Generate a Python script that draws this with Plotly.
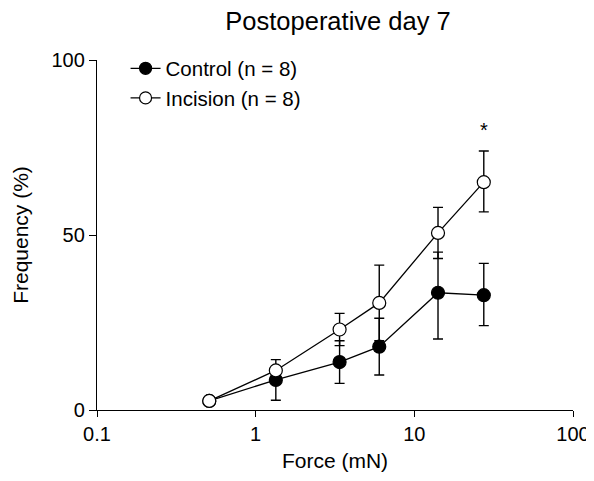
import math
import plotly.graph_objects as go

force = [0.51, 1.34, 3.38, 6.01, 14.1, 27.4]
control = [2.6, 8.6, 13.7, 18.1, 33.5, 32.8]
control_err_up = [0, 5.8, 6.1, 8.1, 11.6, 9.1]
control_err_dn = [0, 5.8, 6.1, 8.1, 13.2, 8.7]
incision = [2.6, 11.3, 23.0, 30.6, 50.6, 65.1]
incision_err_up = [0, 0, 4.6, 10.8, 7.3, 8.9]
incision_err_dn = [0, 0, 4.6, 10.8, 7.3, 8.5]
significance_y = 80
x_ticks = [0.1, 1, 10, 100]
x_tick_labels = ["0.1", "1", "10", "100"]
y_ticks = [0, 50, 100]

FONT = "Liberation Sans, Arial, sans-serif"

fig = go.Figure()
fig.add_trace(go.Scatter(
    x=force, y=control, mode="lines+markers", name="Control (n = 8)", showlegend=False,
    line=dict(color="black", width=1.3),
    marker=dict(symbol="circle", size=13, color="black", line=dict(color="black", width=1.2)),
    error_y=dict(type="data", array=control_err_up, arrayminus=control_err_dn, symmetric=False,
                 color="black", thickness=1.4, width=5),
))
fig.add_trace(go.Scatter(
    x=force, y=incision, mode="lines+markers", name="Incision (n = 8)", showlegend=False,
    line=dict(color="black", width=1.3),
    marker=dict(symbol="circle", size=13, color="white", line=dict(color="black", width=1.2)),
    error_y=dict(type="data", array=incision_err_up, arrayminus=incision_err_dn, symmetric=False,
                 color="black", thickness=1.4, width=5),
))
# legend entries
fig.add_trace(go.Scatter(
    x=[None], y=[None], mode="lines+markers", name="Control (n = 8)",
    line=dict(color="black", width=1.3),
    marker=dict(symbol="circle", size=12, color="black", line=dict(color="black", width=1.2)),
))
fig.add_trace(go.Scatter(
    x=[None], y=[None], mode="lines+markers", name="Incision (n = 8)",
    line=dict(color="black", width=1.3),
    marker=dict(symbol="circle", size=12, color="white", line=dict(color="black", width=1.2)),
))

fig.add_annotation(x=math.log10(force[-1]), y=significance_y, xref="x", yref="y", text="*",
                   showarrow=False, font=dict(family=FONT, size=20, color="black"),
                   xanchor="center", yanchor="middle")

fig.update_layout(
    width=594, height=481,
    margin=dict(l=83, r=25, t=52, b=79),
    paper_bgcolor="white", plot_bgcolor="white",
    font=dict(family=FONT, size=20, color="black"),
    title=dict(text="Postoperative day 7", x=0.5556, xanchor="center", y=0.973, yanchor="middle",
               font=dict(family=FONT, size=25.5, color="black")),
    showlegend=True,
    legend=dict(x=0.06, y=1.033, xanchor="left", yanchor="top", bgcolor="rgba(0,0,0,0)",
                font=dict(family=FONT, size=20.5), tracegroupgap=0),
)
fig.update_xaxes(type="log", range=[-1, 2], tickvals=x_ticks, ticktext=x_tick_labels,
                 showline=True, linecolor="black", linewidth=1.3, ticks="outside", ticklen=6,
                 tickwidth=1.3, tickcolor="black", showgrid=False, zeroline=False,
                 title=dict(text="Force (mN)", font=dict(family=FONT, size=21), standoff=9),
                 tickfont=dict(family=FONT, size=20))
fig.update_yaxes(range=[0, 100], tickvals=y_ticks,
                 showline=True, linecolor="black", linewidth=1.3, ticks="outside", ticklen=7,
                 tickwidth=1.3, tickcolor="black", showgrid=False, zeroline=False,
                 title=dict(text="Frequency (%)", font=dict(family=FONT, size=21), standoff=17),
                 tickfont=dict(family=FONT, size=20))

fig.write_html("out.html")
